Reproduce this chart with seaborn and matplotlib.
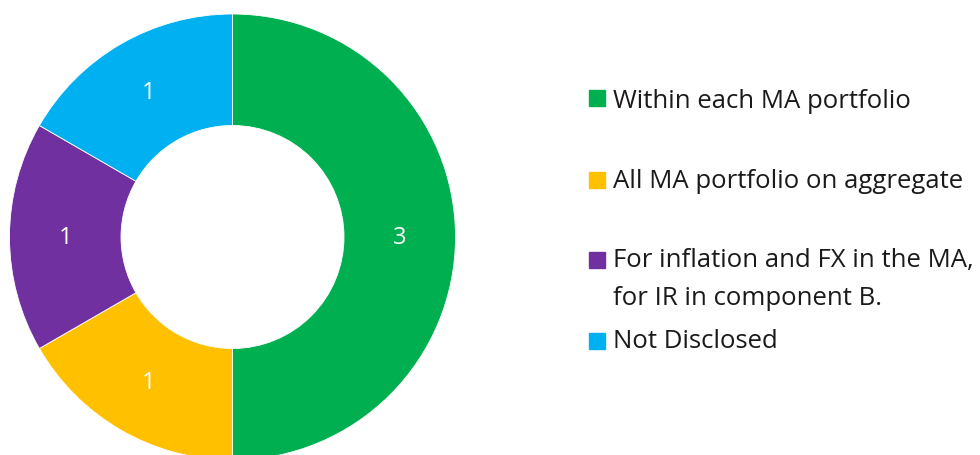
import matplotlib
matplotlib.use("Agg")
import matplotlib.pyplot as plt
from matplotlib.patches import Rectangle
import seaborn as sns

# data
categories = ["Within each MA portfolio",
              "All MA portfolio on aggregate",
              "For inflation and FX in the MA,\nfor IR in component B.",
              "Not Disclosed"]
counts = [3, 1, 1, 1]
colors = ["#00B050", "#FFC000", "#7030A0", "#00B0F0"]

sns.set_theme(style="white")
plt.rcParams['font.family'] = ['Open Sans', 'DejaVu Sans']

W, H = 980, 456
fig = plt.figure(figsize=(W / 100, H / 100), dpi=100)
fig.patch.set_facecolor("white")

# donut: centre (232.5, 238) px, radius 223 px
cx, cy, r = 232.5, 238, 223
ax = fig.add_axes([(cx - r) / W, (H - cy - r) / H, 2 * r / W, 2 * r / H])
total = sum(counts)
wedges, texts, autotexts = ax.pie(
    counts, colors=colors, startangle=90, counterclock=False, radius=1,
    autopct=lambda p: f"{p * total / 100:.0f}", pctdistance=0.75,
    wedgeprops=dict(width=0.5, edgecolor="white", linewidth=0.6),
    textprops=dict(color="white", fontsize=17))
ax.set_xlim(-1, 1)
ax.set_ylim(-1, 1)
ax.set_aspect("equal")
ax.axis("off")

# legend drawn by hand (Excel-style spacing, marker on first line)
marker_y = [99, 181, 260.5, 341.5]
base_y = [108, 188.5, 267, 348]
for lab, col, my, by in zip(categories, colors, marker_y, base_y):
    fig.patches.append(Rectangle((589 / W, 1 - (my + 8) / H), 16 / W, 16 / H,
                                 transform=fig.transFigure, color=col))
    fig.text(613 / W, 1 - by / H, lab.split("\n")[0], fontsize=18.5,
             color="#1a1a1a", va="baseline", ha="left")
    if "\n" in lab:
        fig.text(613 / W, 1 - (by + 38) / H, lab.split("\n")[1], fontsize=18.5,
                 color="#1a1a1a", va="baseline", ha="left")

plt.savefig("out.png", dpi=100, facecolor="white")
